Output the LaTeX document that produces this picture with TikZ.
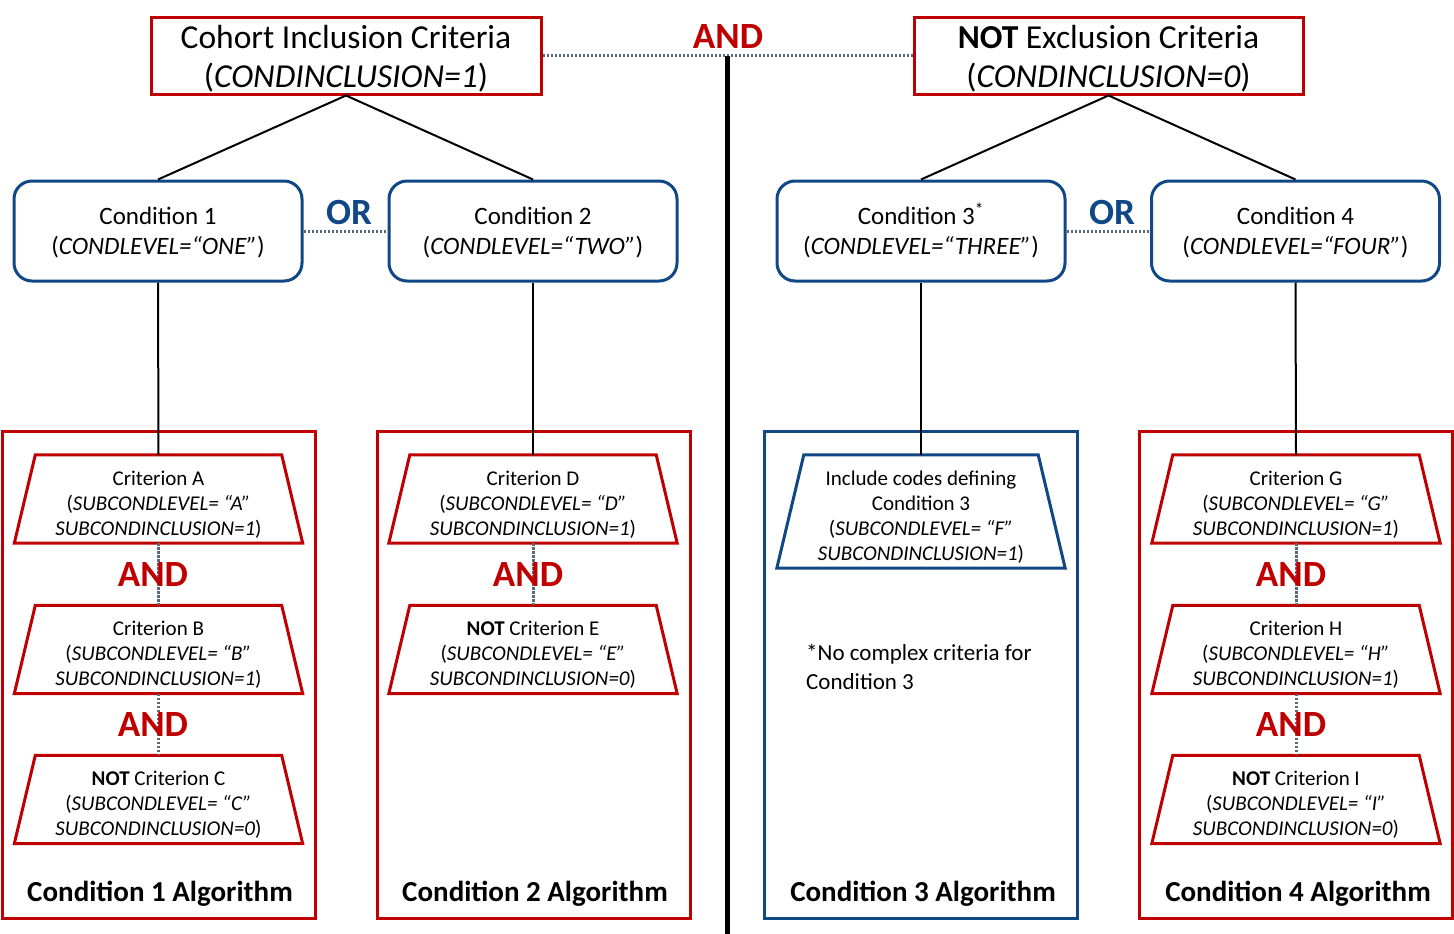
\documentclass[tikz,border=0pt]{standalone}
\usepackage{fontspec}
\setmainfont{Carlito}
\definecolor{cred}{RGB}{192,0,0}
\definecolor{cblue}{RGB}{16,72,134}
\definecolor{cdot}{RGB}{88,106,120}
\begin{document}
\begin{tikzpicture}[x=1pt,y=-1pt,
  topbox/.style={draw=cred, line width=3pt, minimum width=390pt, minimum height=76pt, inner sep=0pt},
  toptxt/.style={inner sep=0pt, align=center, font=\fontsize{33.5}{39}\selectfont},
  condbox/.style={draw=cblue, line width=3pt, rounded corners=18pt, minimum width=288pt, minimum height=100pt, inner sep=0pt},
  condtxt/.style={inner sep=0pt, align=center, font=\fontsize{25}{30}\selectfont},
  algbox/.style={line width=3pt, minimum width=313pt, minimum height=487pt, inner sep=0pt},
  crit/.style={minimum width=288pt, minimum height=88pt, inner sep=0pt},
  crittxt/.style={inner sep=0pt, align=center, font=\fontsize{21}{25}\selectfont},
  andlbl/.style={text=cred, font=\bfseries\fontsize{37}{37}\selectfont, inner sep=0pt},
  orlbl/.style={text=cblue, font=\bfseries\fontsize{37}{37}\selectfont, inner sep=0pt},
  alglbl/.style={font=\bfseries\fontsize{29}{29}\selectfont, inner sep=0pt},
  link/.style={line width=2pt, black},
  dotlink/.style={line width=3pt, cdot, dash pattern=on 2.5pt off 1.5pt},
]
\useasboundingbox (0,0) rectangle (1454,934);
\fill[white] (0,0) rectangle (1454,934);

% algorithm boxes
\node[algbox, draw=cred] (alg1) at (158.5,674.5) {};
\node[algbox, draw=cred] (alg2) at (533.5,674.5) {};
\node[algbox, draw=cblue] (alg3) at (920.5,674.5) {};
\node[algbox, draw=cred] (alg4) at (1295.5,674.5) {};

% top boxes
\node[topbox] (inc) at (346,56) {};
\node[topbox, minimum width=389pt] (exc) at (1108.5,56) {};
\node[toptxt] (inct) at ([yshift=-2.5pt]inc.center) {Cohort Inclusion Criteria\\(\textit{CONDINCLUSION=1})};
\node[toptxt] (exct) at ([yshift=-2.5pt]exc.center) {\textbf{NOT} Exclusion Criteria\\(\textit{CONDINCLUSION=0})};

% condition boxes
\node[condbox] (c1) at (158,231) {};
\node[condbox] (c2) at (533,231) {};
\node[condbox] (c3) at (921,231) {};
\node[condbox] (c4) at (1295.5,231) {};
\node[condtxt] (c1t) at ([yshift=-2pt]c1.center) {Condition 1\\(\textit{CONDLEVEL=“ONE”})};
\node[condtxt] (c2t) at ([yshift=-2pt]c2.center) {Condition 2\\(\textit{CONDLEVEL=“TWO”})};
\node[condtxt] (c3t) at ([yshift=-2pt]c3.center) {Condition 3\smash{\textsuperscript{*}}\\(\textit{CONDLEVEL=“THREE”})};
\node[condtxt] (c4t) at ([yshift=-2pt]c4.center) {Condition 4\\(\textit{CONDLEVEL=“FOUR”})};

% criteria shapes
\node[crit] (A) at (158.5,499) {};
\node[crit] (B) at (158.5,649.5) {};
\node[crit] (C) at (158.5,799.5) {};
\node[crit] (D) at (533,499) {};
\node[crit] (E) at (533,649.5) {};
\node[crit, minimum height=113pt] (F) at (921,511.5) {};
\node[crit] (G) at (1296,499) {};
\node[crit] (H) at (1296,649.5) {};
\node[crit] (I) at (1296,799.5) {};

\foreach \n/\c/\d in {A/cred/21, B/cred/21, C/cred/21, D/cred/21, E/cred/21, F/cblue/27, G/cred/21, H/cred/21, I/cred/21}
  \draw[draw=\c, line width=3pt] (\n.south west) -- ([xshift=\d pt]\n.north west) -- ([xshift=-\d pt]\n.north east) -- (\n.south east) -- cycle;

% criteria texts
\node[crittxt] (At) at ([yshift=-5.5pt]A.center) {Criterion A\\(\textit{SUBCONDLEVEL= “A”}\\\textit{SUBCONDINCLUSION=1})};
\node[crittxt] (Bt) at ([yshift=-5.5pt]B.center) {Criterion B\\(\textit{SUBCONDLEVEL= “B”}\\\textit{SUBCONDINCLUSION=1})};
\node[crittxt] (Ct) at ([yshift=-5.5pt]C.center) {\textbf{NOT} Criterion C\\(\textit{SUBCONDLEVEL= “C”}\\\textit{SUBCONDINCLUSION=0})};
\node[crittxt] (Dt) at ([yshift=-5.5pt]D.center) {Criterion D\\(\textit{SUBCONDLEVEL= “D”}\\\textit{SUBCONDINCLUSION=1})};
\node[crittxt] (Et) at ([yshift=-5.5pt]E.center) {\textbf{NOT} Criterion E\\(\textit{SUBCONDLEVEL= “E”}\\\textit{SUBCONDINCLUSION=0})};
\node[crittxt] (Ft) at ([yshift=-6pt]F.center) {Include codes defining\\Condition 3\\(\textit{SUBCONDLEVEL= “F”}\\\textit{SUBCONDINCLUSION=1})};
\node[crittxt] (Gt) at ([yshift=-5.5pt]G.center) {Criterion G\\(\textit{SUBCONDLEVEL= “G”}\\\textit{SUBCONDINCLUSION=1})};
\node[crittxt] (Ht) at ([yshift=-5.5pt]H.center) {Criterion H\\(\textit{SUBCONDLEVEL= “H”}\\\textit{SUBCONDINCLUSION=1})};
\node[crittxt] (It) at ([yshift=-5.5pt]I.center) {\textbf{NOT} Criterion I\\(\textit{SUBCONDLEVEL= “I”}\\\textit{SUBCONDINCLUSION=0})};

% connectors
\coordinate (vtop) at (727,56);
\coordinate (vbot) at (727,934);
\draw[dotlink] (inc.east) -- (exc.west);
\draw[line width=5pt, black] (vtop) -- (vbot);
\node[andlbl] (andtop) at (728,37) {AND};

\draw[link] (inc.south) -- (c1.north);
\draw[link] (inc.south) -- (c2.north);
\draw[link] (exc.south) -- (c3.north);
\draw[link] (exc.south) -- (c4.north);

\draw[dotlink] (c1.east) -- (c2.west);
\draw[dotlink] (c3.east) -- (c4.west);
\node[orlbl] (or1) at (349,212) {OR};
\node[orlbl] (or2) at (1112,212) {OR};

\draw[link] (c1.south) -- (A.north);
\draw[link] (c2.south) -- (D.north);
\draw[link] (c3.south) -- (F.north);
\draw[link] (c4.south) -- (G.north);

\draw[dotlink] (A.south) -- (B.north);
\draw[dotlink] (B.south) -- (C.north);
\draw[dotlink] (D.south) -- (E.north);
\draw[dotlink] (G.south) -- (H.north);
\draw[dotlink] (H.south) -- (I.north);

\node[andlbl] (and1) at (153,574) {AND};
\node[andlbl] (and2) at (153,724) {AND};
\node[andlbl] (and3) at (528,574) {AND};
\node[andlbl] (and4) at (1291,574) {AND};
\node[andlbl] (and5) at (1291,724) {AND};

\node[anchor=west, align=left, inner sep=0pt, font=\fontsize{23}{29}\selectfont] (note) at (806,667) {*No complex criteria for\\Condition 3};

\node[alglbl] (l1) at (160,894) {Condition 1 Algorithm};
\node[alglbl] (l2) at (535,894) {Condition 2 Algorithm};
\node[alglbl] (l3) at (923,894) {Condition 3 Algorithm};
\node[alglbl] (l4) at (1298,894) {Condition 4 Algorithm};
\end{tikzpicture}
\end{document}
